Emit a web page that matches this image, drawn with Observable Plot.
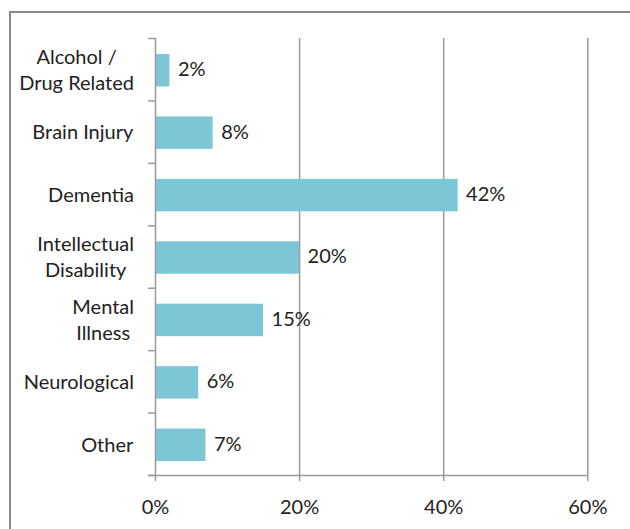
<!DOCTYPE html>
<html>
<head>
<meta charset="utf-8">
<script src="https://cdn.jsdelivr.net/npm/d3@7"></script>
<script src="https://cdn.jsdelivr.net/npm/@observablehq/plot@0.6"></script>
<style>
  html, body { margin: 0; padding: 0; background: #fff; }
  #wrap { position: relative; width: 630px; height: 529px; overflow: hidden; }
  #frame { position: absolute; left: 9px; top: 11px; width: 700px; height: 700px;
           border-left: 2px solid #8a8a8a; border-top: 2px solid #8a8a8a; pointer-events: none; }
  svg { display: block; }
</style>
</head>
<body>
<div id="wrap"><div id="frame"></div></div>
<script>
const categories = ["Alcohol /\nDrug Related", "Brain Injury", "Dementia", "Intellectual\nDisability", "Mental\nIllness", "Neurological", "Other"];
const values = [2, 8, 42, 20, 15, 6, 7];
const xTicks = [0, 20, 40, 60];

const data = categories.map((c, i) => ({category: c, value: values[i], index: i}));
const n = categories.length;
const FS = 20;

const chart = Plot.plot({
  width: 630,
  height: 529,
  marginLeft: 155,
  marginRight: 42.7,
  marginTop: 38,
  marginBottom: 54,
  style: {fontFamily: "Lato, 'Open Sans', sans-serif", fontSize: FS + "px", color: "#222", background: "transparent"},
  x: {domain: [0, 60], label: null, axis: null},
  y: {domain: [0, n], reverse: true, axis: null, label: null},
  marks: [
    Plot.ruleX(xTicks.slice(1), {stroke: "#9a9a9a", strokeWidth: 1.5}),
    Plot.rectX(data, {x1: 0, x2: "value", y1: "index", y2: d => d.index + 1, insetTop: 16, insetBottom: 14, fill: "#7CC6D6"}),
    Plot.text(data, {x: "value", y: d => d.index + 0.5, text: d => d.value + "%", textAnchor: "start", dx: 8, fill: "#222", fontSize: FS}),
    Plot.ruleX([0], {stroke: "#9a9a9a", strokeWidth: 1.5}),
    Plot.ruleY([n], {stroke: "#9a9a9a", strokeWidth: 1.5, insetLeft: -7}),
    Plot.axisY({ticks: d3.range(0, n + 1), tickSize: 7, tickFormat: () => "", label: null, stroke: "#9a9a9a", strokeWidth: 1.5}),
    Plot.axisX({ticks: xTicks, tickFormat: d => d + "%", tickSize: 6, tickPadding: 18, stroke: "#9a9a9a", strokeWidth: 1.5, fill: "#222", fontSize: FS, label: null}),
    Plot.text(data, {x: 0, y: d => d.index + 0.5, text: "category", textAnchor: "middle", dx: -70, dy: -1, lineHeight: 1.3, fill: "#222", fontSize: FS})
  ]
});

document.getElementById("wrap").insertBefore(chart, document.getElementById("frame"));

// right-align each label block while keeping its lines centred on one another
const textGroups = chart.querySelectorAll('g[aria-label="text"]');
const labelGroup = textGroups[textGroups.length - 1];
if (labelGroup) {
  const rightEdge = 134;
  const svgLeft = chart.getBoundingClientRect().left;
  labelGroup.querySelectorAll(":scope > text").forEach(t => {
    const r = t.getBoundingClientRect();
    const shift = rightEdge - (r.right - svgLeft);
    const prev = t.getAttribute("transform") || "";
    t.setAttribute("transform", `translate(${shift},0) ` + prev);
  });
}
</script>
</body>
</html>
